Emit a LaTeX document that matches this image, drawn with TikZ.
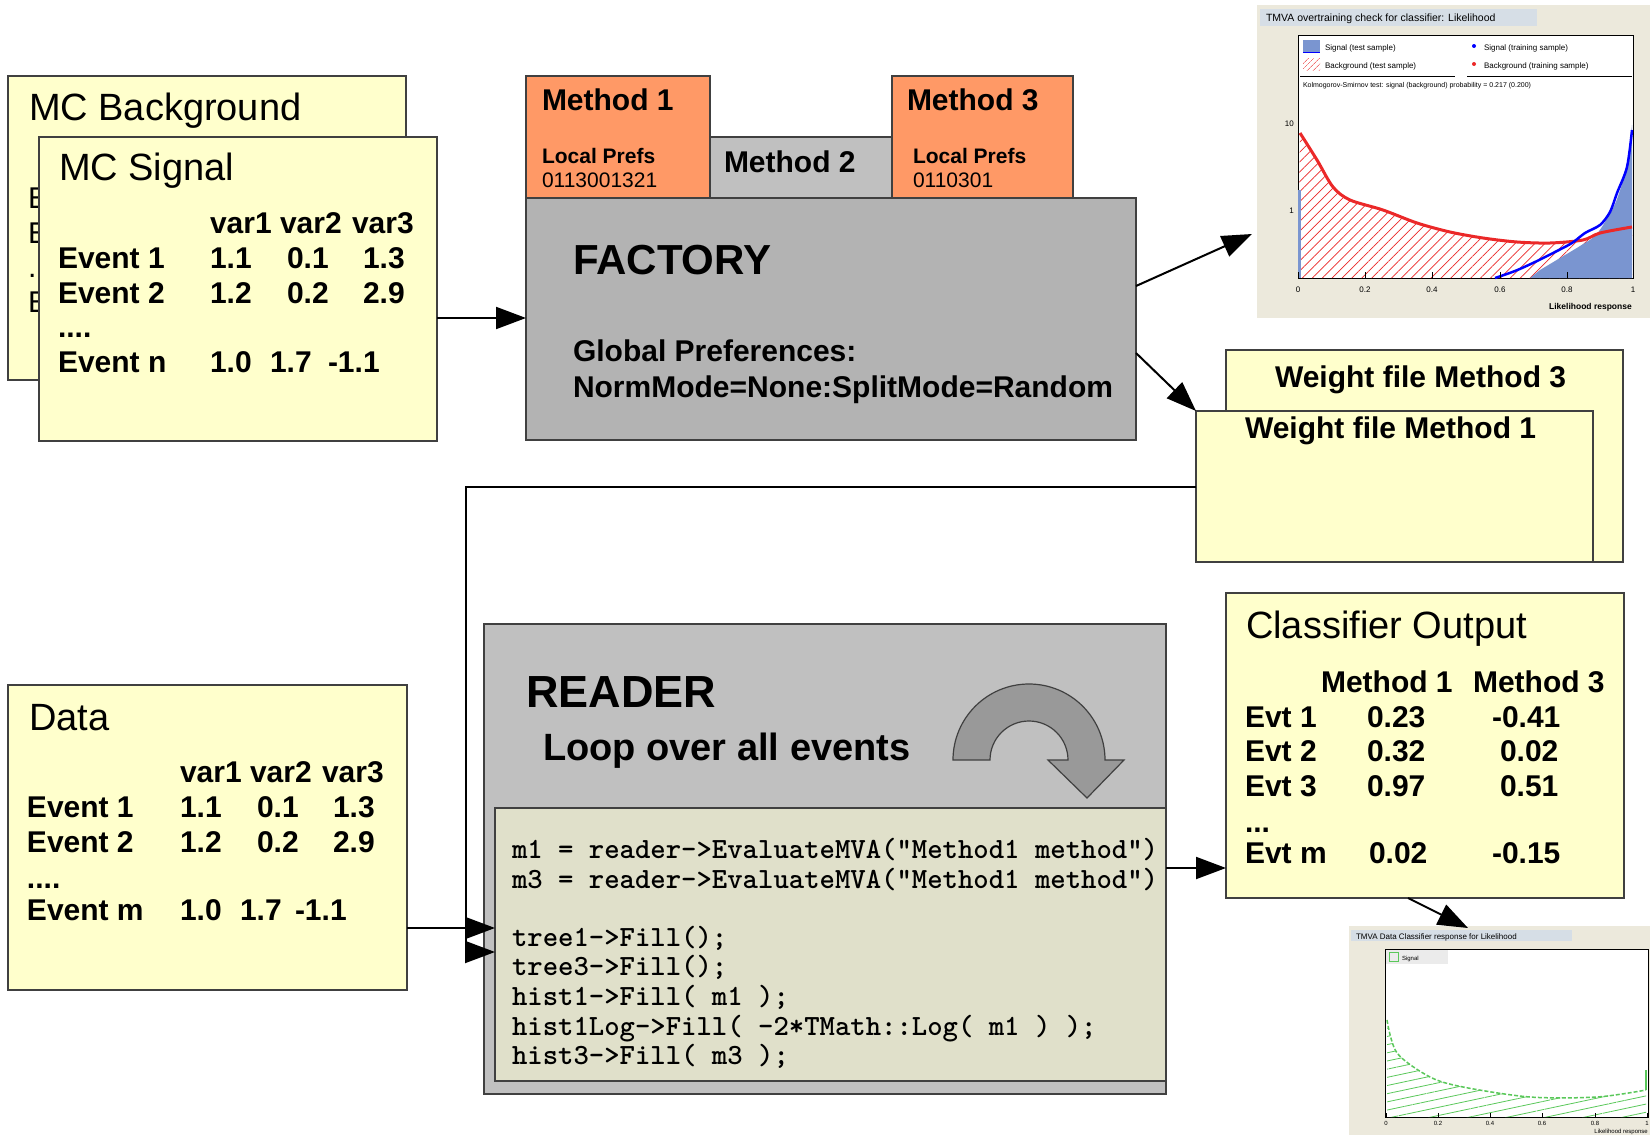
\documentclass[tikz,border=0pt]{standalone}
\usepackage{fontspec}
\setmainfont{Liberation Sans}
\usetikzlibrary{arrows.meta,patterns.meta}
\definecolor{boxyellow}{RGB}{255,255,204}
\definecolor{boxline}{RGB}{64,64,64}
\definecolor{taborange}{RGB}{255,153,102}
\definecolor{factgray}{RGB}{179,179,179}
\definecolor{litegray}{RGB}{192,192,192}
\definecolor{codefill}{RGB}{224,224,202}
\definecolor{loopgray}{RGB}{153,153,153}
\definecolor{plotbg}{RGB}{236,233,220}
\definecolor{plottitle}{RGB}{214,222,230}
\definecolor{sigblue}{RGB}{122,149,208}
\definecolor{bkgred}{RGB}{235,40,40}
\definecolor{datagreen}{RGB}{90,200,90}
\newcommand\fTitle{\fontsize{38}{42}\selectfont}
\newcommand\fTab{\fontsize{30}{33}\selectfont\bfseries}
\newcommand\fTabR{\fontsize{30}{33}\selectfont}
\newcommand\fSmallB{\fontsize{21}{23}\selectfont\bfseries}
\newcommand\fSmall{\fontsize{21}{23}\selectfont}
\newcommand\fCode{\fontsize{29.3}{30}\selectfont\ttfamily\bfseries}
\newcommand\fTiny{\fontsize{8}{9}\selectfont}
\tikzset{
  box/.style={draw=boxline, line width=1.5pt, inner sep=0pt, outer sep=0pt, anchor=north west},
  ybox/.style={box, fill=boxyellow},
  lbl/.style={anchor=base west, inner sep=0pt, outer sep=0pt},
  arr/.style={draw=black, line width=2pt, -{Triangle[length=30pt,width=22pt]}},
  plotbox/.style={inner sep=0pt, outer sep=0pt, anchor=north west, fill=plotbg},
}
\begin{document}
\begin{tikzpicture}[x=1pt,y=-1pt]
\useasboundingbox (0,0) rectangle (1650,1135);
\fill[white] (0,0) rectangle (1650,1135);

% ---------------- MC Background / MC Signal ----------------
\node[ybox, minimum width=398pt, minimum height=304pt] (mcb) at (8,76) {};
\node[lbl, font=\fTitle] (mcbt) at (29,120) {MC Background};
\node[lbl, font=\fTabR] (mcb1) at (28,208) {E};
\node[lbl, font=\fTabR] (mcb2) at (28,243) {E};
\node[lbl, font=\fTabR] (mcb3) at (28,277) {.};
\node[lbl, font=\fTabR] (mcb4) at (28,312) {E};

\node[ybox, minimum width=398pt, minimum height=304pt] (mcs) at (39,137) {};
\node[lbl, font=\fTitle] (mcst) at (59,180) {MC Signal};
\node[lbl, font=\fTab] (sv1) at (210,233) {var1};
\node[lbl, font=\fTab] (sv2) at (280,233) {var2};
\node[lbl, font=\fTab] (sv3) at (352,233) {var3};
\node[lbl, font=\fTab] (se1) at (58,268) {Event 1};
\node[lbl, font=\fTab] (se1a) at (210,268) {1.1};
\node[lbl, font=\fTab] (se1b) at (287,268) {0.1};
\node[lbl, font=\fTab] (se1c) at (363,268) {1.3};
\node[lbl, font=\fTab] (se2) at (58,303) {Event 2};
\node[lbl, font=\fTab] (se2a) at (210,303) {1.2};
\node[lbl, font=\fTab] (se2b) at (287,303) {0.2};
\node[lbl, font=\fTab] (se2c) at (363,303) {2.9};
\node[lbl, font=\fTab] (sed) at (58,337) {....};
\node[lbl, font=\fTab] (sen) at (58,372) {Event n};
\node[lbl, font=\fTab] (sena) at (210,372) {1.0};
\node[lbl, font=\fTab] (senb) at (270,372) {1.7};
\node[lbl, font=\fTab] (senc) at (328,372) {-1.1};

% ---------------- Factory ----------------
\node[box, fill=taborange, minimum width=184pt, minimum height=122pt] (m1) at (526,76) {};
\node[box, fill=litegray, minimum width=182pt, minimum height=61pt] (m2) at (710,137) {};
\node[box, fill=taborange, minimum width=181pt, minimum height=122pt] (m3) at (892,76) {};
\node[lbl, font=\fTab] (m1t) at (542,110) {Method 1};
\node[lbl, font=\fSmallB] (m1p) at (542,163) {Local Prefs};
\node[lbl, font=\fSmall] (m1v) at (542,187) {0113001321};
\node[lbl, font=\fTab] (m2t) at (724,172) {Method 2};
\node[lbl, font=\fTab] (m3t) at (907,110) {Method 3};
\node[lbl, font=\fSmallB] (m3p) at (913,163) {Local Prefs};
\node[lbl, font=\fSmall] (m3v) at (913,187) {0110301};

\node[box, fill=factgray, minimum width=610pt, minimum height=242pt] (fac) at (526,198) {};
\node[lbl, font=\fontsize{42}{46}\selectfont\bfseries] (fact) at (573,274) {FACTORY};
\node[lbl, font=\fTab] (facg) at (573,361) {Global Preferences:};
\node[lbl, font=\fTab] (facn) at (573,397) {NormMode=None:SplitMode=Random};

% ---------------- Weight files ----------------
\node[ybox, minimum width=397pt, minimum height=212pt] (wf3) at (1226,350) {};
\node[lbl, font=\fTab] (wf3t) at (1275,387) {Weight file Method 3};
\node[ybox, minimum width=397pt, minimum height=151pt] (wf1) at (1196,411) {};
\node[lbl, font=\fTab] (wf1t) at (1245,438) {Weight file Method 1};

% ---------------- Data ----------------
\node[ybox, minimum width=399pt, minimum height=305pt] (data) at (8,685) {};
\node[lbl, font=\fTitle] (datat) at (29,730) {Data};
\node[lbl, font=\fTab] (dv1) at (180,782) {var1};
\node[lbl, font=\fTab] (dv2) at (250,782) {var2};
\node[lbl, font=\fTab] (dv3) at (322,782) {var3};
\node[lbl, font=\fTab] (de1) at (27,817) {Event 1};
\node[lbl, font=\fTab] (de1a) at (180,817) {1.1};
\node[lbl, font=\fTab] (de1b) at (257,817) {0.1};
\node[lbl, font=\fTab] (de1c) at (333,817) {1.3};
\node[lbl, font=\fTab] (de2) at (27,852) {Event 2};
\node[lbl, font=\fTab] (de2a) at (180,852) {1.2};
\node[lbl, font=\fTab] (de2b) at (257,852) {0.2};
\node[lbl, font=\fTab] (de2c) at (333,852) {2.9};
\node[lbl, font=\fTab] (ded) at (27,888) {....};
\node[lbl, font=\fTab] (dem) at (27,920) {Event m};
\node[lbl, font=\fTab] (dema) at (180,920) {1.0};
\node[lbl, font=\fTab] (demb) at (240,920) {1.7};
\node[lbl, font=\fTab] (demc) at (295,920) {-1.1};

% ---------------- Reader ----------------
\node[box, fill=litegray, minimum width=682pt, minimum height=470pt] (rdr) at (484,624) {};
\node[lbl, font=\fontsize{45}{48}\selectfont\bfseries] (rdrt) at (526,707) {READER};
\node[lbl, font=\fontsize{38}{42}\selectfont\bfseries] (rdrl) at (543,760) {Loop over all events};
\draw[fill=loopgray, draw=boxline, line width=1.2pt]
  (953,760) arc[start angle=180, end angle=360, radius=76]
  -- (1124,760) -- (1087,798) -- (1048,760) -- (1068,760)
  arc[start angle=360, end angle=180, radius=39] -- cycle;
\node[box, fill=codefill, minimum width=671pt, minimum height=273pt] (code) at (495,808) {};
\node[lbl, font=\fCode] (c1) at (512,858) {m1 = reader->EvaluateMVA("Method1 method")};
\node[lbl, font=\fCode] (c2) at (512,888) {m3 = reader->EvaluateMVA("Method1 method")};
\node[lbl, font=\fCode] (c3) at (512,946) {tree1->Fill();};
\node[lbl, font=\fCode] (c4) at (512,975) {tree3->Fill();};
\node[lbl, font=\fCode] (c5) at (512,1005) {hist1->Fill( m1 );};
\node[lbl, font=\fCode] (c6) at (512,1035) {hist1Log->Fill( -2*TMath::Log( m1 ) );};
\node[lbl, font=\fCode] (c7) at (512,1064) {hist3->Fill( m3 );};

% ---------------- Classifier output ----------------
\node[ybox, minimum width=398pt, minimum height=305pt] (cls) at (1226,593) {};
\node[lbl, font=\fTitle] (clst) at (1246,638) {Classifier Output};
\node[lbl, font=\fTab] (clm1) at (1321,692) {Method 1};
\node[lbl, font=\fTab] (clm3) at (1473,692) {Method 3};
\node[lbl, font=\fTab] (ce1) at (1245,727) {Evt 1};
\node[lbl, font=\fTab] (ce1a) at (1367,727) {0.23};
\node[lbl, font=\fTab] (ce1b) at (1492,727) {-0.41};
\node[lbl, font=\fTab] (ce2) at (1245,761) {Evt 2};
\node[lbl, font=\fTab] (ce2a) at (1367,761) {0.32};
\node[lbl, font=\fTab] (ce2b) at (1500,761) {0.02};
\node[lbl, font=\fTab] (ce3) at (1245,796) {Evt 3};
\node[lbl, font=\fTab] (ce3a) at (1367,796) {0.97};
\node[lbl, font=\fTab] (ce3b) at (1500,796) {0.51};
\node[lbl, font=\fTab] (ced) at (1245,832) {...};
\node[lbl, font=\fTab] (cem) at (1245,863) {Evt m};
\node[lbl, font=\fTab] (cema) at (1369,863) {0.02};
\node[lbl, font=\fTab] (cemb) at (1492,863) {-0.15};

% ---------------- Plot A (overtraining check) ----------------
\node[plotbox, minimum width=393pt, minimum height=313pt] (plotA) at (1257,5) {};
\fill[plottitle] (1260,9) rectangle (1537,26);
\node[lbl, font=\fontsize{10.5}{12}\selectfont] (pAt) at (1266,21) {TMVA overtraining check for classifier: Likelihood};
\draw[fill=white, line width=0.8pt] (1298,35) rectangle (1633,278);
\fill[pattern={Lines[angle=45,distance=7pt,line width=0.7pt]}, pattern color=bkgred]
  (1298,278) -- plot[smooth] coordinates {(1300,133) (1317,160) (1333,187) (1350,200) (1383,210) (1417,223) (1450,232) (1483,238) (1517,242) (1550,243) (1583,240) (1600,233) (1632,227)} -- (1632,278) -- cycle;
\fill[sigblue] (1530,278) -- plot[smooth] coordinates {(1540,270) (1560,258) (1580,246) (1595,236) (1605,222) (1615,204) (1622,184) (1628,160) (1632,125)} -- (1632,278) -- cycle;
\fill[sigblue] (1298,190) rectangle (1301,278);
\draw[bkgred, line width=3pt] plot[smooth] coordinates {(1300,133) (1317,160) (1333,187) (1350,200) (1383,210) (1417,223) (1450,232) (1483,238) (1517,242) (1550,243) (1583,240) (1600,233) (1632,227)};
\draw[blue, line width=2.5pt] plot[smooth] coordinates {(1495,278) (1515,271) (1535,262) (1555,252) (1572,243) (1585,233) (1600,225) (1610,212) (1617,193) (1627,167) (1632,130)};
\fill[white] (1299,36) rectangle (1632,76);
\draw[line width=0.6pt] (1300,76) -- (1455,76) (1467,76) -- (1632,76);
\fill[sigblue] (1303,40) rectangle (1320,52);
\draw[blue, line width=1pt] (1303,52) -- (1320,52);
\node[lbl, font=\fTiny] (pAl1) at (1325,50) {Signal (test sample)};
\fill[pattern={Lines[angle=45,distance=4pt,line width=0.6pt]}, pattern color=bkgred] (1303,58) rectangle (1320,70);
\node[lbl, font=\fTiny] (pAl2) at (1325,68) {Background (test sample)};
\fill[blue] (1474,46) circle[radius=2];
\node[lbl, font=\fTiny] (pAl3) at (1484,50) {Signal (training sample)};
\fill[bkgred] (1474,64) circle[radius=2];
\node[lbl, font=\fTiny] (pAl4) at (1484,68) {Background (training sample)};
\node[lbl, font=\fontsize{7}{8}\selectfont] (pAks) at (1303,87) {Kolmogorov-Smirnov test: signal (background) probability = 0.217 (0.200)};
\foreach \xx/\tt in {1298/0,1365/0.2,1432/0.4,1500/0.6,1567/0.8,1633/1} {
  \draw[line width=0.6pt] (\xx,278) -- (\xx,272);
  \node[anchor=base, inner sep=0pt, font=\fTiny] at (\xx,292) {\tt};
}
\node[anchor=base east, inner sep=0pt, font=\fTiny] (pAy1) at (1294,126) {10};
\node[anchor=base east, inner sep=0pt, font=\fTiny] (pAy2) at (1294,213) {1};
\node[anchor=base east, inner sep=0pt, font=\fontsize{8.5}{9}\selectfont\bfseries] (pAx) at (1632,309) {Likelihood response};

% ---------------- Plot B (data response) ----------------
\node[plotbox, minimum width=301pt, minimum height=209pt] (plotB) at (1349,926) {};
\fill[plottitle] (1351,930) rectangle (1572,941);
\node[lbl, font=\fontsize{8}{9}\selectfont] (pBt) at (1356,939) {TMVA Data Classifier response for Likelihood};
\draw[fill=white, line width=0.8pt] (1385,949) rectangle (1648,1117);
\fill[black!8] (1386,950) rectangle (1448,964);
\draw[datagreen, line width=1pt] (1389,952) rectangle (1398,961);
\node[lbl, font=\fontsize{6}{7}\selectfont] (pBl) at (1402,960) {Signal};
\fill[pattern={Lines[angle=12,distance=8pt,line width=0.8pt]}, pattern color=datagreen]
  (1387,1117) -- plot[smooth] coordinates {(1387,1020) (1397,1053) (1430,1077) (1463,1087) (1530,1097) (1597,1097) (1646,1090)} -- (1646,1117) -- cycle;
\draw[datagreen, line width=1.5pt, dash pattern=on 4pt off 2pt] plot[smooth] coordinates {(1387,1020) (1397,1053) (1430,1077) (1463,1087) (1530,1097) (1597,1097) (1646,1090)};
\draw[datagreen, line width=1.5pt] (1646,1070) -- (1646,1090);
\foreach \xx/\tt in {1386/0,1438/0.2,1490/0.4,1542/0.6,1595/0.8,1647/1} {
  \draw[line width=0.5pt] (\xx,1117) -- (\xx,1113);
  \node[anchor=base, inner sep=0pt, font=\fontsize{6}{7}\selectfont] at (\xx,1125) {\tt};
}
\node[anchor=base east, inner sep=0pt, font=\fontsize{6}{7}\selectfont] (pBx) at (1648,1133) {Likelihood response};

% ---------------- Connectors ----------------
\coordinate (ySig) at (0,318);
\coordinate (yPA) at (0,286);
\coordinate (pAin) at (1252,234);
\coordinate (yWF) at (0,353);
\coordinate (fbk) at (466,952);
\coordinate (yData) at (0,928);
\coordinate (yCls) at (0,868);
\coordinate (clsOut) at (1408,898);
\coordinate (pBin) at (1468,928);

\draw[arr] (mcs.east |- ySig) -- (fac.west |- ySig);
\draw[arr] (fac.east |- yPA) -- (pAin);
\draw[arr] (fac.east |- yWF) -- (wf1.north west);
\draw[arr] (wf1.west) -| (fbk) -- (code.west |- fbk);
\draw[arr] (data.east |- yData) -- (code.west |- yData);
\draw[arr] (code.east |- yCls) -- (cls.west |- yCls);
\draw[arr] (clsOut) -- (pBin);
\end{tikzpicture}
\end{document}
